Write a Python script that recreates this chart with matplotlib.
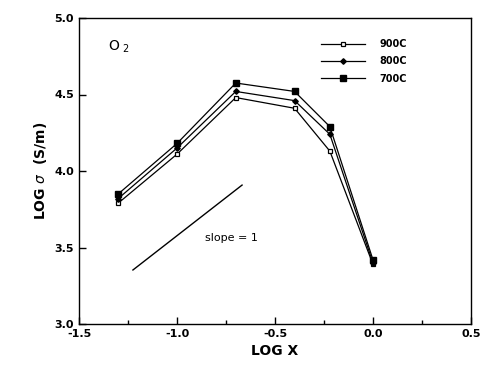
import matplotlib
matplotlib.use("Agg")
import matplotlib.pyplot as plt
from matplotlib.ticker import MultipleLocator

log_x = [-1.3, -1.0, -0.7, -0.4, -0.22, 0.0]
s900 = [3.79, 4.11, 4.48, 4.41, 4.13, 3.39]
s800 = [3.82, 4.15, 4.52, 4.46, 4.24, 3.40]
s700 = [3.85, 4.18, 4.575, 4.52, 4.29, 3.42]
slope_x = [-1.225, -0.668]
slope_y = [3.353, 3.908]

plt.rcParams['font.family'] = ['DejaVu Sans']
fig = plt.figure(figsize=(4.82, 3.75), dpi=100)
ax = fig.add_axes([0.164, 0.136, 0.813, 0.816])

ax.plot(log_x, s900, color='black', lw=0.9, marker='s', ms=3.5, mfc='white', mec='black', mew=0.9, label='900C')
ax.plot(log_x, s800, color='black', lw=0.9, marker='D', ms=2.8, mfc='black', mec='black', label='800C')
ax.plot(log_x, s700, color='black', lw=0.9, marker='s', ms=4, mfc='black', mec='black', label='700C')
ax.plot(slope_x, slope_y, color='black', lw=1.0)
ax.text(-0.72, 3.56, 'slope = 1', fontsize=8, ha='center', va='center')
ax.text(-1.35, 4.81, r'O$_{\ 2}$', fontsize=10, ha='left', va='center')

ax.set_xlim(-1.5, 0.5)
ax.set_ylim(3.0, 5.0)
ax.xaxis.set_major_locator(MultipleLocator(0.5))
ax.xaxis.set_minor_locator(MultipleLocator(0.25))
ax.yaxis.set_major_locator(MultipleLocator(0.5))
ax.tick_params(which='both', direction='in', top=False, right=False, labelsize=8)
ax.tick_params(which='major', length=5, width=1)
ax.tick_params(which='minor', length=3, width=1)
ax.xaxis.set_major_formatter(plt.FuncFormatter(lambda v, p: f'{v:.1f}'))
ax.yaxis.set_major_formatter(plt.FuncFormatter(lambda v, p: f'{v:.1f}'))
for lbl in ax.get_xticklabels() + ax.get_yticklabels():
    lbl.set_fontweight('bold')

ax.set_xlabel('LOG X', fontsize=10, fontweight='bold')
ax.set_ylabel(r'LOG $\sigma$  (S/m)', fontsize=10, fontweight='bold')
for s in ax.spines.values():
    s.set_linewidth(1.0)

leg = ax.legend(loc='upper right', bbox_to_anchor=(0.86, 0.96), frameon=False, fontsize=7,
                handlelength=4.5, labelspacing=0.75, handletextpad=1.5)
for t in leg.get_texts():
    t.set_fontweight('bold')

fig.savefig('out.png', dpi=100)
